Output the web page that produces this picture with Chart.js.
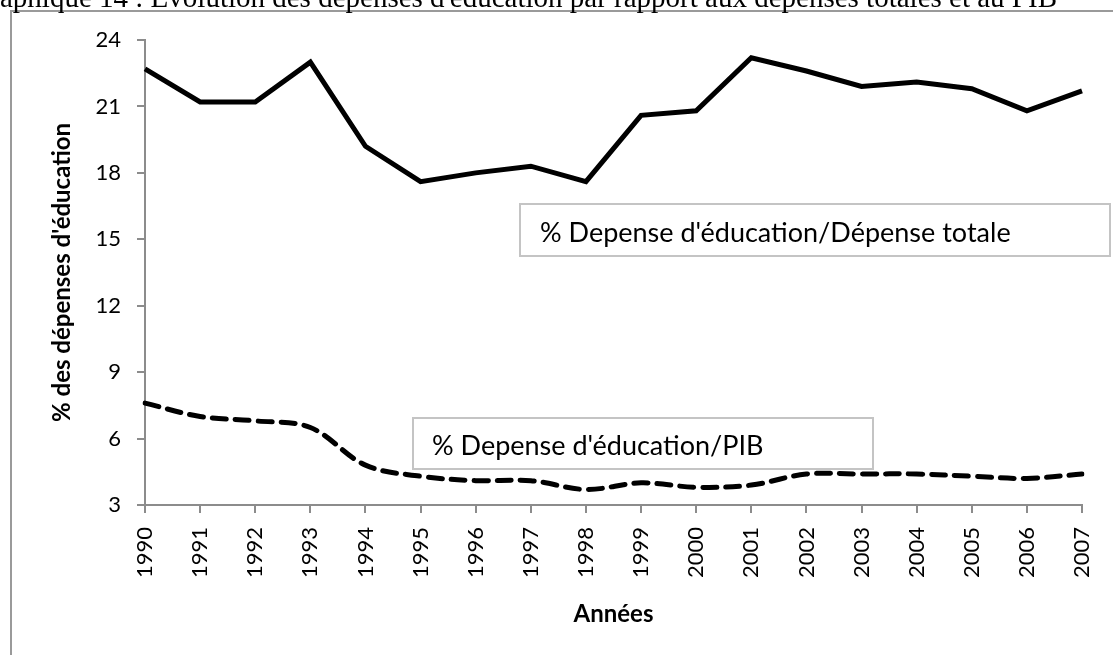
<!DOCTYPE html>
<html>
<head>
<meta charset="utf-8">
<script src="https://cdn.jsdelivr.net/npm/chart.js@4.4.0/dist/chart.umd.min.js"></script>
<style>
  html, body { margin: 0; padding: 0; background: #fff; }
  #wrap { width: 1113px; height: 655px; position: relative; }
</style>
</head>
<body>
<div id="wrap"><canvas id="chart" width="1113" height="655"></canvas></div>
<script>
// Data
const years = ["1990","1991","1992","1993","1994","1995","1996","1997","1998",
  "1999","2000","2001","2002","2003","2004","2005","2006","2007"];
const depTotale = [22.7, 21.2, 21.2, 23.0, 19.2, 17.6, 18.0, 18.3, 17.6,
  20.6, 20.8, 23.2, 22.6, 21.9, 22.1, 21.8, 20.8, 21.7];
const depPib = [7.6, 7.0, 6.8, 6.5, 4.8, 4.3, 4.1, 4.1, 3.7,
  4.0, 3.8, 3.9, 4.4, 4.4, 4.4, 4.3, 4.2, 4.4];
const yTicks = [3, 6, 9, 12, 15, 18, 21, 24];

const titleText = "aphique 14 : Évolution des dépenses d'éducation par rapport aux dépenses totales et au PIB";
const labelTotale = "% Depense d'éducation/Dépense totale";
const labelPib = "% Depense d'éducation/PIB";

const axisGray = "#8c8c8c";
const tickFont = { family: "Lato", size: 22 };

// Frame, title and the two text boxes
const decor = {
  id: "decor",
  beforeDraw(chart) {
    const c = chart.ctx;
    c.save();
    c.strokeStyle = "#9a9a9a";
    c.lineWidth = 2;
    c.beginPath();
    c.moveTo(11, 655);
    c.lineTo(11, 11);
    c.lineTo(1113, 11);
    c.stroke();
    c.fillStyle = "#000";
    c.font = '29px "Liberation Serif"';
    c.textBaseline = "alphabetic";
    c.fillText(titleText, 0, 7);
    c.restore();
  },
  afterDatasetsDraw(chart) {
    const c = chart.ctx;
    function box(x, y, w, h, text, tx, ty) {
      c.save();
      c.fillStyle = "#fff";
      c.fillRect(x, y, w, h);
      c.strokeStyle = "#c4c4c4";
      c.lineWidth = 2;
      c.strokeRect(x, y, w, h);
      c.fillStyle = "#000";
      c.font = '27px "Lato"';
      c.textBaseline = "alphabetic";
      c.fillText(text, tx, ty);
      c.restore();
    }
    box(520, 204, 590, 52, labelTotale, 540, 242);
    box(413, 418, 460, 51, labelPib, 432, 455);
  }
};

const ctx = document.getElementById("chart").getContext("2d");

new Chart(ctx, {
  type: "line",
  data: {
    labels: years,
    datasets: [{
      label: labelTotale,
      data: depTotale,
      borderColor: "#000",
      borderWidth: 5,
      tension: 0,
      pointRadius: 0,
      borderJoinStyle: "miter"
    }, {
      label: labelPib,
      data: depPib,
      borderColor: "#000",
      borderWidth: 5,
      borderDash: [14, 9],
      borderCapStyle: "round",
      tension: 0.35,
      pointRadius: 0
    }]
  },
  options: {
    responsive: false,
    animation: false,
    layout: { padding: { top: 40, right: 31, left: 0, bottom: 0 } },
    plugins: {
      legend: { display: false },
      tooltip: { enabled: false }
    },
    scales: {
      x: {
        offset: false,
        grid: { drawOnChartArea: false, color: axisGray, lineWidth: 2, tickLength: 8 },
        border: { color: axisGray, width: 2 },
        ticks: {
          color: "#000", font: tickFont, autoSkip: false,
          minRotation: 90, maxRotation: 90, padding: 14
        },
        title: {
          display: true, text: "Années", color: "#000",
          font: { family: "Lato", size: 24, weight: "bold" },
          padding: { top: 0, bottom: 26 }
        },
        afterFit(scale) {
          scale.height = 150;
          scale.paddingLeft = 0;
          scale.paddingRight = 0;
        }
      },
      y: {
        min: 3, max: 24,
        grid: { drawOnChartArea: false, color: axisGray, lineWidth: 2, tickLength: 8 },
        border: { color: axisGray, width: 2 },
        afterBuildTicks(scale) { scale.ticks = yTicks.map(v => ({ value: v })); },
        ticks: { color: "#000", font: tickFont, padding: 16 },
        title: {
          display: true, text: "% des dépenses d'éducation", color: "#000",
          font: { family: "Lato", size: 24, weight: "bold" },
          padding: { top: 48, bottom: 0 }
        },
        afterFit(scale) {
          scale.width = 145;
          scale.paddingTop = 0;
          scale.paddingBottom = 0;
        }
      }
    }
  },
  plugins: [decor]
});
</script>
</body>
</html>
